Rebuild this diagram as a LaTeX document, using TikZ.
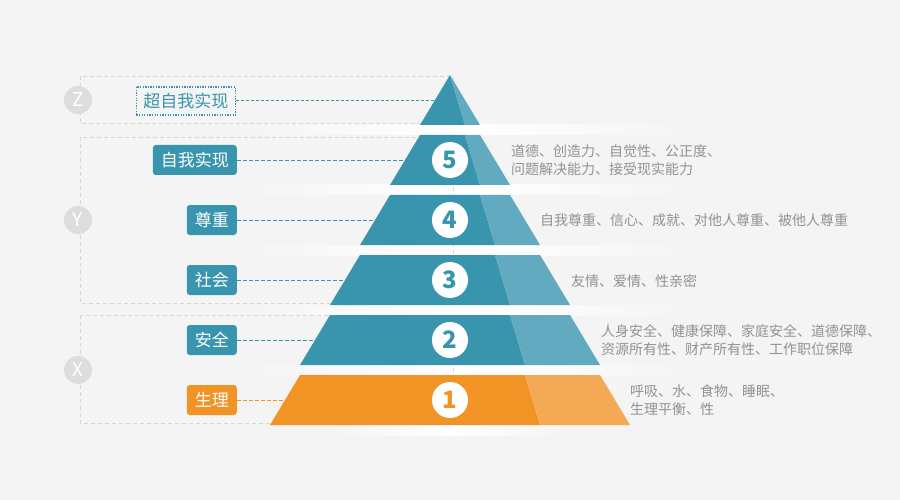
\documentclass[tikz,border=0pt]{standalone}
\usepackage{fontspec}
\setmainfont{Noto Sans CJK SC}
\definecolor{tealdark}{HTML}{3995AE}
\definecolor{teallight}{HTML}{62AABF}
\definecolor{orangedark}{HTML}{F29325}
\definecolor{orangelight}{HTML}{F4AA55}
\definecolor{descgray}{HTML}{929292}
\definecolor{boxgray}{HTML}{D6D6D6}
\definecolor{bggray}{HTML}{F4F4F4}
\definecolor{markgray}{HTML}{DDDDDD}
\begin{document}
\begin{tikzpicture}[x=1pt, y=-1pt,
  lbl/.style={rectangle, rounded corners=3pt, fill=tealdark, text=white, font=\fontsize{17}{20}\selectfont, minimum height=30pt, inner xsep=8pt, inner ysep=0pt, anchor=east},
  num/.style={circle, fill=white, minimum size=36pt, inner sep=0pt, text=tealdark, font=\fontsize{24}{24}\selectfont\bfseries},
  desc/.style={anchor=west, align=left, inner sep=1pt, text=descgray, font=\fontsize{14}{18}\selectfont},
  grpmark/.style={circle, fill=markgray, minimum size=28pt, inner sep=0pt, text=white, font=\fontsize{19}{19}\selectfont},
  group/.style={draw=boxgray, line width=0.8pt, dash pattern=on 4pt off 3pt},
  conn/.style={draw=tealdark, line width=0.8pt, dash pattern=on 4pt off 2pt},
  gap/.style={left color=bggray, right color=bggray, middle color=white}]
\useasboundingbox (0,0) rectangle (900,500);
\fill[bggray] (0,0) rectangle (900,500);

% 背景条
\shade[gap] (230,125) rectangle (700,135);
\shade[gap] (230,185) rectangle (700,195);
\shade[gap] (230,245) rectangle (700,255);
\shade[gap] (230,305) rectangle (700,315);
\shade[gap] (230,365) rectangle (700,375);
\shade[gap] (330,425) rectangle (570,435);

% 分组
\draw[group] (80,76) rectangle (453,123);
\draw[group] (80,137) rectangle (453,303);
\draw[group] (80,315) rectangle (453,423);
\node (markz) [grpmark] at (78,100) {Z};
\node (marky) [grpmark] at (78,220) {Y};
\node (markx) [grpmark] at (78,370) {X};

% 左侧标签
\node (lblz) [rectangle, anchor=east, draw=tealdark, line width=1.3pt, dash pattern=on 1.3pt off 1.3pt, text=tealdark, font=\fontsize{17}{20}\selectfont, minimum height=28pt, inner xsep=7pt, inner ysep=0pt] at (236,101) {超自我实现};
\node (lbl5) [lbl] at (237,160) {自我实现};
\node (lbl4) [lbl] at (237,220) {尊重};
\node (lbl3) [lbl] at (237,280) {社会};
\node (lbl2) [lbl] at (237,340) {安全};
\node (lbl1) [lbl, fill=orangedark] at (237,400) {生理};

% 连线
\coordinate (pz) at (450,101);
\coordinate (p5) at (450,160);
\coordinate (p4) at (450,220);
\coordinate (p3) at (450,280);
\coordinate (p2) at (450,340);
\coordinate (p1) at (450,400);
\draw[conn, line width=1pt, dash pattern=on 3pt off 2pt] (lblz.east) -- (pz);
\draw[conn] (lbl5.east) -- (p5);
\draw[conn] (lbl4.east) -- (p4);
\draw[conn] (lbl3.east) -- (p3);
\draw[conn] (lbl2.east) -- (p2);
\draw[conn, draw=orangedark] (lbl1.east) -- (p1);

% 金字塔
\fill[tealdark] (450,75) -- (420,125) -- (465,125) -- cycle;
\fill[teallight] (450,75) -- (465,125) -- (480,125) -- cycle;
\fill[tealdark] (420,135) -- (390,185) -- (480,185) -- (465,135) -- cycle;
\fill[teallight] (465,135) -- (480,185) -- (510,185) -- (480,135) -- cycle;
\fill[tealdark] (390,195) -- (360,245) -- (495,245) -- (480,195) -- cycle;
\fill[teallight] (480,195) -- (495,245) -- (540,245) -- (510,195) -- cycle;
\fill[tealdark] (360,255) -- (330,305) -- (510,305) -- (495,255) -- cycle;
\fill[teallight] (495,255) -- (510,305) -- (570,305) -- (540,255) -- cycle;
\fill[tealdark] (330,315) -- (300,365) -- (525,365) -- (510,315) -- cycle;
\fill[teallight] (510,315) -- (525,365) -- (600,365) -- (570,315) -- cycle;
\fill[orangedark] (300,375) -- (270,425) -- (540,425) -- (525,375) -- cycle;
\fill[orangelight] (525,375) -- (540,425) -- (630,425) -- (600,375) -- cycle;

% 层级编号
\node (n5) [num] at (p5) {5};
\node (n4) [num] at (p4) {4};
\node (n3) [num] at (p3) {3};
\node (n2) [num] at (p2) {2};
\node (n1) [num, text=orangedark] at (p1) {1};

% 说明
\node (d5) [desc] at (510,160) {道德、创造力、自觉性、公正度、\\问题解决能力、接受现实能力};
\node (d4) [desc] at (539,220) {自我尊重、信心、成就、对他人尊重、被他人尊重};
\node (d3) [desc] at (570,281) {友情、爱情、性亲密};
\node (d2) [desc] at (600,340) {人身安全、健康保障、家庭安全、道德保障、\\资源所有性、财产所有性、工作职位保障};
\node (d1) [desc] at (629,400) {呼吸、水、食物、睡眠、\\生理平衡、性};

\end{tikzpicture}
\end{document}
